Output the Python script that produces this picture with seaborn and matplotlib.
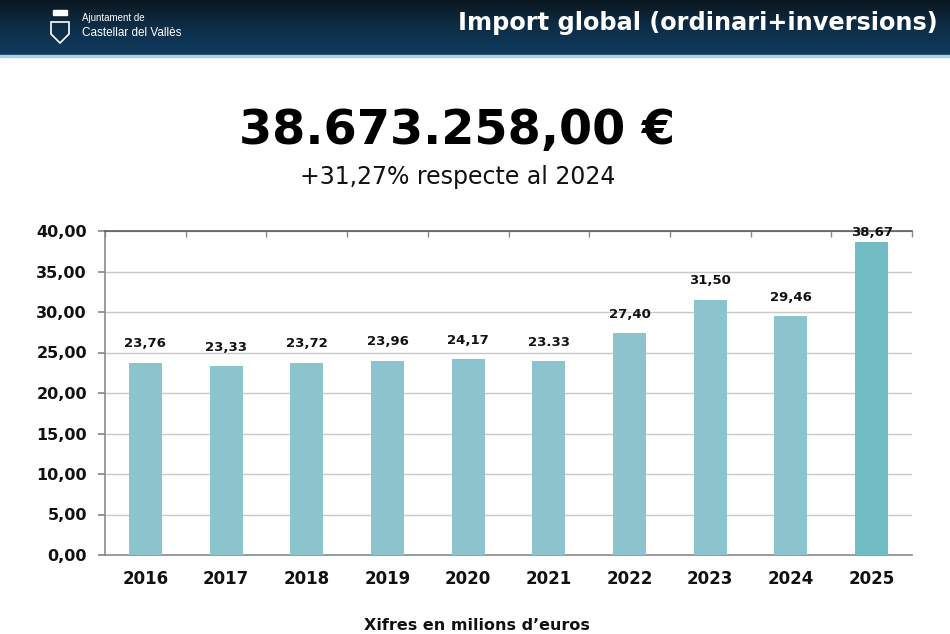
import numpy as np
import pandas as pd
import matplotlib
matplotlib.use("Agg")
import matplotlib.pyplot as plt
import seaborn as sns
from matplotlib.patches import Rectangle, Polygon
from matplotlib.colors import LinearSegmentedColormap

years = ["2016", "2017", "2018", "2019", "2020", "2021", "2022", "2023", "2024", "2025"]
values = [23.76, 23.33, 23.72, 23.96, 24.17, 23.95, 27.40, 31.50, 29.46, 38.67]
labels = ["23,76", "23,33", "23,72", "23,96", "24,17", "23.33", "27,40", "31,50", "29,46", "38,67"]
yticks = [0, 5, 10, 15, 20, 25, 30, 35, 40]
ytick_labels = ["0,00", "5,00", "10,00", "15,00", "20,00", "25,00", "30,00", "35,00", "40,00"]
header_title = "Import global (ordinari+inversions)"
big_number = "38.673.258,00 €"
subtitle = "+31,27% respecte al 2024"
footer = "Xifres en milions d\u2019euros"

sns.set_theme(style="white")
plt.rcParams['font.family'] = ['DejaVu Sans']

fig = plt.figure(figsize=(9.5, 6.34), dpi=100)
fig.patch.set_facecolor("white")

# header band with gradient
hdr = fig.add_axes([0, 1 - 55 / 634, 1, 55 / 634])
grad = np.linspace(0, 1, 64).reshape(-1, 1)
cmap = LinearSegmentedColormap.from_list("hdr", ["#0a1720", "#0e2e48", "#0f3b60"])
hdr.imshow(grad, aspect="auto", cmap=cmap, extent=[0, 1, 0, 1], origin="upper")
hdr.set_xlim(0, 1); hdr.set_ylim(0, 1)
hdr.axis("off")
fig.add_artist(Rectangle((0, 1 - 57 / 634), 1, 2 / 634, transform=fig.transFigure,
                         color="#a9cfe0", zorder=5))
# simple logo
sx, sy = 60 / 950, 1 - 30 / 634
shield = Polygon([[sx - 9 / 950, sy + 8 / 634], [sx + 9 / 950, sy + 8 / 634],
                  [sx + 9 / 950, sy - 4 / 634], [sx, sy - 13 / 634], [sx - 9 / 950, sy - 4 / 634]],
                 closed=True, transform=fig.transFigure, facecolor="none", edgecolor="white", lw=1.2, zorder=6)
fig.add_artist(shield)
fig.add_artist(Rectangle((sx - 7 / 950, 1 - 15 / 634), 14 / 950, 5 / 634, transform=fig.transFigure,
                         color="white", zorder=6))
fig.text(82 / 950, 1 - 18 / 634, "Ajuntament de", color="white", fontsize=7, va="center", ha="left",
         family=["Liberation Sans", "DejaVu Sans"])
fig.text(82 / 950, 1 - 33 / 634, "Castellar del Vallès", color="white", fontsize=8.5, va="center", ha="left",
         family=["Liberation Sans", "DejaVu Sans"])
fig.text(938 / 950, 1 - 23 / 634, header_title, color="white", fontsize=17.3, fontweight="bold",
         va="center", ha="right")

fig.text(457 / 950, 1 - 130 / 634, big_number, color="black", fontsize=34.4, fontweight="bold",
         ha="center", va="center")
fig.text(458 / 950, 1 - 177 / 634, subtitle, color="#111111", fontsize=17, ha="center", va="center")

ax = fig.add_axes([105 / 950, 1 - 555 / 634, (912 - 105) / 950, (555 - 231) / 634])
df = pd.DataFrame({"year": years, "value": values})
colors = ["#8bc4cc"] * (len(years) - 1) + ["#72bcc4"]
sns.barplot(data=df, x="year", y="value", hue="year", palette=colors, legend=False,
            width=0.41, ax=ax, saturation=1, zorder=3, linewidth=0)
ax.set_ylim(0, 40)
ax.set_xlim(-0.5, len(years) - 0.5)
ax.set_yticks(yticks)
ax.set_yticklabels(ytick_labels)
ax.set_xlabel(""); ax.set_ylabel("")
ax.yaxis.grid(True, color="#c9c9c9", lw=1, zorder=0)
ax.set_axisbelow(True)
for s in ["left", "bottom", "top"]:
    ax.spines[s].set_visible(True)
    ax.spines[s].set_color("#8a8a8a")
    ax.spines[s].set_linewidth(1.2)
ax.spines["top"].set_color("#5a5a5a")
ax.spines["right"].set_visible(False)
ax.tick_params(axis="y", left=True, length=5, color="#8a8a8a", pad=8, labelsize=11.5)
ax.tick_params(axis="x", bottom=False, pad=5, labelsize=12)
for t in ax.get_yticklabels() + ax.get_xticklabels():
    t.set_fontweight("bold")
    t.set_color("#111111")
ax.set_xticks(np.arange(len(years) + 1) - 0.5, minor=True)
ax.tick_params(axis="x", which="minor", top=True, bottom=False, direction="in", length=4,
               color="#8a8a8a")
for i, (v, lab) in enumerate(zip(values, labels)):
    off = 9 if i < len(values) - 1 else 2
    ax.annotate(lab, (i, v), xytext=(0, off), textcoords="offset points", ha="center",
                va="bottom", fontsize=9.5, color="#111111", fontweight="semibold", zorder=6,
                annotation_clip=False)

fig.text(477 / 950, 1 - 625 / 634, footer, fontsize=11.5, fontweight="bold", ha="center",
         va="center", color="#111111")

fig.savefig("out.png", dpi=100, facecolor="white")
